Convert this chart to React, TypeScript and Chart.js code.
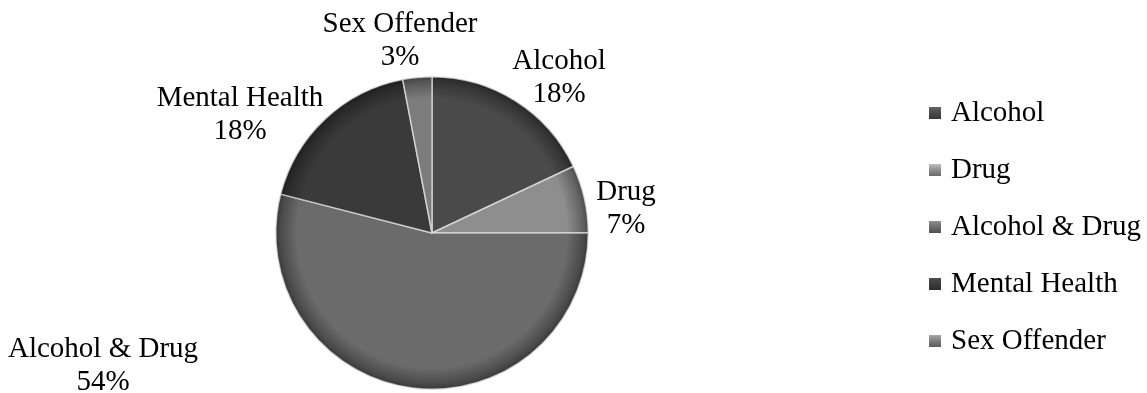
import React, { useEffect, useRef } from "react";
import { Chart, registerables } from "chart.js";

Chart.register(...registerables);

const categories = ["Alcohol", "Drug", "Alcohol & Drug", "Mental Health", "Sex Offender"];
const values = [18, 7, 54, 18, 3];
const percentLabels = ["18%", "7%", "54%", "18%", "3%"];
const sliceColors = ["#4a4a4a", "#8e8e8e", "#6b6b6b", "#3a3a3a", "#7c7c7c"];

// label block centre offsets from the pie centre (layout only)
const labelOffsets: [number, number][] = [
  [127, -155],
  [194, -24],
  [-329, 133],
  [-192, -118],
  [-32, -192],
];

const FONT = "'Liberation Serif', 'Times New Roman', serif";

function shade(hex: string, f: number) {
  const n = parseInt(hex.slice(1), 16);
  const r = Math.max(0, Math.min(255, Math.round(((n >> 16) & 255) * f)));
  const g = Math.max(0, Math.min(255, Math.round(((n >> 8) & 255) * f)));
  const b = Math.max(0, Math.min(255, Math.round((n & 255) * f)));
  return `rgb(${r},${g},${b})`;
}

const labelPlugin = {
  id: "pieLabels",
  afterDraw(chart: any) {
    const ctx = chart.ctx;
    const meta = chart.getDatasetMeta(0);
    if (!meta.data.length) return;
    const cx = meta.data[0].x;
    const cy = meta.data[0].y;
    ctx.save();
    ctx.font = `29px ${FONT}`;
    ctx.fillStyle = "#000";
    ctx.textAlign = "center";
    ctx.textBaseline = "middle";
    chart.data.labels.forEach((lab: string, i: number) => {
      const [dx, dy] = labelOffsets[i];
      ctx.fillText(lab, cx + dx, cy + dy - 16.5);
      ctx.fillText(percentLabels[i], cx + dx, cy + dy + 16.5);
    });
    // legend
    const lx = 929;
    const ly0 = 113;
    const step = 57;
    ctx.textAlign = "left";
    chart.data.labels.forEach((lab: string, i: number) => {
      const y = ly0 + i * step;
      const c = sliceColors[i];
      const g = ctx.createLinearGradient(lx, y - 6, lx, y + 6);
      g.addColorStop(0, shade(c, 1.35));
      g.addColorStop(0.5, c);
      g.addColorStop(1, shade(c, 0.75));
      ctx.fillStyle = g;
      ctx.fillRect(lx, y - 6, 12, 12);
      ctx.fillStyle = "#000";
      ctx.fillText(lab, lx + 22, y);
    });
    ctx.restore();
  },
};

export default function App() {
  const ref = useRef<HTMLCanvasElement>(null);
  useEffect(() => {
    if (!ref.current) return;
    const chart = new Chart(ref.current, {
      type: "pie",
      data: {
        labels: categories,
        datasets: [
          {
            data: values,
            backgroundColor: (ctx: any) => {
              const c = sliceColors[ctx.dataIndex];
              const area = ctx.chart.chartArea;
              if (!area) return c;
              const cx = (area.left + area.right) / 2;
              const cy = (area.top + area.bottom) / 2;
              const r = Math.min(area.right - area.left, area.bottom - area.top) / 2;
              const g = ctx.chart.ctx.createRadialGradient(cx, cy, 0, cx, cy, r);
              g.addColorStop(0, c);
              g.addColorStop(0.86, c);
              g.addColorStop(0.96, shade(c, 0.7));
              g.addColorStop(1, shade(c, 0.5));
              return g;
            },
            borderColor: "rgba(225,225,225,0.75)",
            borderWidth: 1.5,
          },
        ],
      },
      options: {
        responsive: false,
        animation: false,
        layout: { padding: { left: 275, right: 558, top: 76, bottom: 3 } },
        plugins: {
          legend: { display: false },
          tooltip: { enabled: false },
        },
      },
      plugins: [labelPlugin],
    });
    return () => chart.destroy();
  }, []);
  return (
    <div style={{ position: "absolute", left: 0, top: 0, width: 1147, height: 393, background: "#fff" }}>
      <canvas ref={ref} width={1147} height={393} style={{ display: "block" }} />
    </div>
  );
}
